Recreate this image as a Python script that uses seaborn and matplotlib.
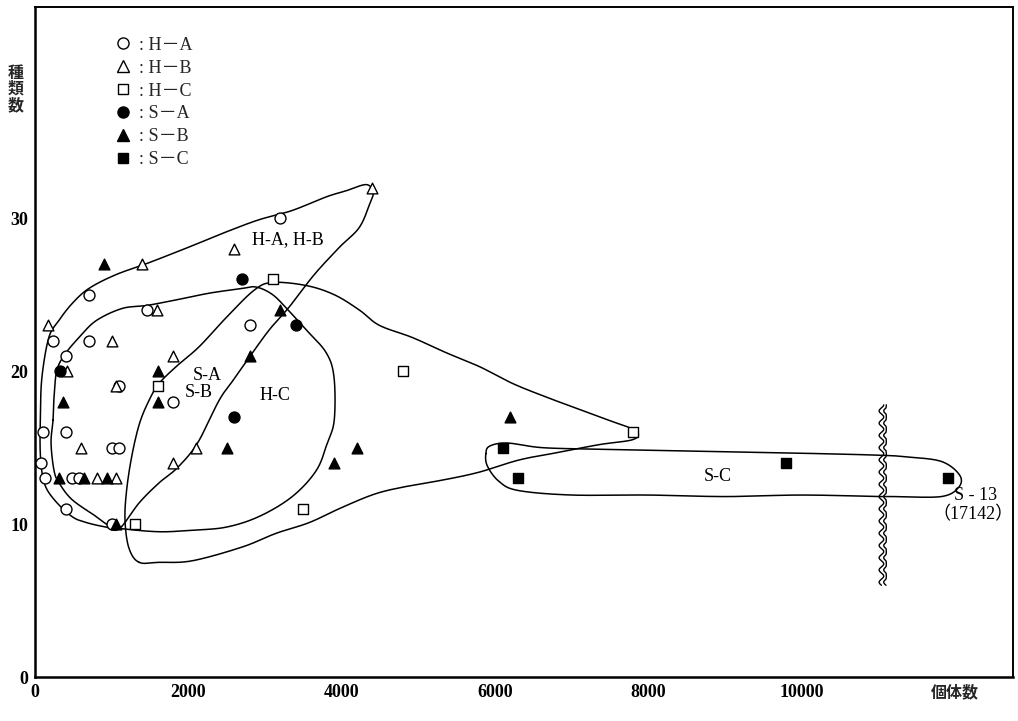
import numpy as np
import pandas as pd
import matplotlib
matplotlib.use("Agg")
import matplotlib.pyplot as plt
import seaborn as sns
from matplotlib.lines import Line2D

# ---- individuals (x) and species counts (y) per site group ----
ha_x = [3200, 700, 1460, 230, 700, 400, 2800, 1100, 1800, 100, 400, 1000, 1100, 80, 130, 480, 570, 400, 1000]
ha_y = [30, 25, 24, 22, 22, 21, 23, 19, 18, 16, 16, 15, 15, 14, 13, 13, 13, 11, 10]

hb_x = [4400, 2600, 1400, 170, 1000, 1800, 420, 1590, 1050, 600, 2100, 1800, 810, 1060]
hb_y = [32, 28, 27, 23, 22, 21, 20, 24, 19, 15, 15, 14, 13, 13]

hc_x = [3100, 1600, 4800, 3500, 1300, 7800]
hc_y = [26, 19, 20, 11, 10, 16]

sa_x = [330, 2700, 3400, 2600]
sa_y = [20, 26, 23, 17]

sb_x = [900, 370, 310, 640, 940, 1050, 1600, 1600, 2800, 3200, 2500, 3900, 4200, 6200]
sb_y = [27, 18, 13, 13, 13, 10, 20, 18, 21, 24, 15, 14, 15, 17]

sc_x = [6100, 6300, 9800, 17142]
sc_y = [15, 13, 14, 13]

group_names = ["H\uff0dA", "H\uff0dB", "H\uff0dC", "S\uff0dA", "S\uff0dB", "S\uff0dC"]
x_ticks = [0, 2000, 4000, 6000, 8000, 10000]
y_ticks = [0, 10, 20, 30]

# ---- hand-drawn group envelopes (control points, data units) ----
env_hab_x = [1100, 930, 670, 480, 250, 120, 70, 70, 90, 180, 310, 480, 700, 1050, 1490, 2050,
             2490, 2920, 3350, 3800, 4060, 4320, 4410, 4370, 4230, 3970, 3640, 3316, 3055,
             2794, 2598, 2402, 2120, 1860, 1619, 1360]
env_hab_y = [9.7, 9.8, 10.1, 10.5, 11.6, 12.7, 14.5, 17.0, 19.6, 22.2, 23.3, 24.4, 25.4, 26.3,
             27.1, 28.2, 29.1, 29.9, 30.5, 31.4, 31.8, 32.2, 31.7, 31.0, 29.4, 28.1, 26.3,
             24.2, 22.7, 20.9, 19.5, 18.1, 15.3, 13.7, 12.7, 11.4]

env_sab_x = [235, 248, 287, 405, 574, 796, 1136, 1462, 1880, 2272, 2689, 2885, 3100, 3300,
             3538, 3799, 3900, 3903, 3812, 3668, 3355, 2924, 2493, 2050, 1619, 1136, 966,
             796, 483, 313, 248, 209]
env_sab_y = [16.8, 18.3, 20.1, 21.2, 22.2, 23.3, 24.1, 24.3, 24.7, 25.1, 25.4, 25.5, 25.0, 24.0,
             22.7, 21.2, 19.6, 16.8, 15.3, 13.5, 11.8, 10.5, 9.8, 9.6, 9.5, 9.7, 9.9,
             10.5, 11.6, 12.7, 13.5, 15.3]

env_hc_x = [1358, 1227, 1175, 1188, 1253, 1358, 1488, 1619, 1841, 2141, 2493, 2859, 3100, 3538,
            3903, 4230, 4490, 4922, 5366, 5796, 6227, 6671, 7102, 7533, 7755, 7870, 7781,
            7363, 6841, 6319, 5796, 5339, 4882, 4452, 4008, 3577, 3146, 2702, 2050, 1619]
env_hc_y = [7.5, 8.4, 10.1, 11.9, 14.2, 16.5, 18.1, 19.2, 20.3, 21.6, 23.5, 25.3, 25.8, 25.6,
            25.0, 24.0, 23.0, 22.2, 21.2, 20.3, 19.2, 18.3, 17.5, 16.7, 16.3, 15.9, 15.5,
            15.2, 14.7, 14.2, 13.4, 12.9, 12.5, 12.0, 11.1, 10.1, 9.4, 8.5, 7.6, 7.5]

env_sc_x = [5880, 5930, 6160, 6610, 7300, 8300, 9300, 10300, 11040, 13000, 16500, 18300,
            18200, 16500, 12000, 11040, 10000, 9000, 8000, 7000, 6300, 6050, 5900]
env_sc_y = [14.6, 15.1, 15.3, 15.0, 14.9, 14.8, 14.7, 14.6, 14.5, 14.4, 14.1, 13.2,
            12.4, 11.8, 11.8, 11.8, 11.9, 11.8, 11.9, 11.9, 12.2, 12.8, 13.8]

# ---- broken x axis: values past the break are squeezed ----
BREAK = 11100.0
SQUEEZE = 0.1334


def fwd(x):
    x = np.asarray(x, float)
    return np.where(x <= BREAK, x, BREAK + (x - BREAK) * SQUEEZE)


def inv(u):
    u = np.asarray(u, float)
    return np.where(u <= BREAK, u, BREAK + (u - BREAK) / SQUEEZE)


def closed_curve(xs, ys, n=24):
    """Closed Catmull-Rom spline through control points (in scaled x space)."""
    P = np.column_stack([fwd(xs), np.asarray(ys, float)])
    N = len(P)
    t = np.linspace(0, 1, n, endpoint=False)[:, None]
    segs = []
    for i in range(N):
        p0, p1, p2, p3 = P[(i - 1) % N], P[i], P[(i + 1) % N], P[(i + 2) % N]
        segs.append(0.5 * (2 * p1 + (-p0 + p2) * t
                           + (2 * p0 - 5 * p1 + 4 * p2 - p3) * t ** 2
                           + (-p0 + 3 * p1 - 3 * p2 + p3) * t ** 3))
    pts = np.vstack(segs + [P[:1]])
    return inv(pts[:, 0]), pts[:, 1]


sns.set_theme(style="white")
plt.rcParams["font.family"] = ["Liberation Serif", "Noto Sans CJK JP", "DejaVu Sans"]

fig = plt.figure(figsize=(10.18, 7.21), dpi=100)
ax = fig.add_axes([0.0344, 0.061, 0.9606, 0.929])
ax.set_xscale("function", functions=(fwd, inv))

frames = []
for name, xs, ys in zip(group_names,
                        [ha_x, hb_x, hc_x, sa_x, sb_x, sc_x],
                        [ha_y, hb_y, hc_y, sa_y, sb_y, sc_y]):
    frames.append(pd.DataFrame({"個体数": xs, "種類数": ys, "group": name}))
df = pd.concat(frames, ignore_index=True)

marker_map = dict(zip(group_names, ["o", "^", "s", "o", "^", "s"]))
size_map = {"o": 62, "^": 60, "s": 48}

# envelopes
for ex, ey in [(env_hab_x, env_hab_y), (env_sab_x, env_sab_y),
               (env_hc_x, env_hc_y), (env_sc_x, env_sc_y)]:
    cx, cy = closed_curve(ex, ey)
    ax.plot(cx, cy, color="black", lw=1.1, zorder=2)

# open markers (H groups) and filled markers (S groups)
for name in group_names:
    sub = df[df["group"] == name]
    m = marker_map[name]
    filled = name.startswith("S")
    sns.scatterplot(data=sub, x="個体数", y="種類数", marker=m, s=size_map[m],
                    color="black" if filled else "white", edgecolor="black",
                    linewidth=1.0, legend=False, ax=ax, zorder=3)

# axis break marker (two wavy lines)
wy = np.linspace(6.0, 17.8, 300)
for x0 in (11040, 11100):
    ax.plot(x0 + 30 * np.sin(wy * 2 * np.pi / 0.8), wy, color="black", lw=1.0, zorder=4)

ax.set_xlim(0, float(inv(12755)))
ax.set_ylim(0, 43.8)
ax.set_xticks(x_ticks)
ax.set_xticklabels([str(v) for v in x_ticks])
ax.set_yticks(y_ticks)
ax.set_yticklabels([str(v) for v in y_ticks])
ax.tick_params(axis="both", direction="in", length=7, width=1.3, colors="black",
               labelsize=13, pad=5)
for lab in ax.get_xticklabels() + ax.get_yticklabels():
    lab.set_fontweight("bold")
ax.set_xlabel("")
ax.set_ylabel("")
for side, sp in ax.spines.items():
    sp.set_color("black")
    sp.set_visible(True)
    sp.set_linewidth(1.8 if side in ("left", "bottom") else 1.4)

# envelope labels
lab_kw = dict(fontsize=13, color="black", ha="center", va="center", zorder=5)
ax.text(3300, 28.6, "H-A, H-B", **lab_kw)
ax.text(2245, 19.7, "S-A", **lab_kw)
ax.text(2130, 18.6, "S-B", **lab_kw)
ax.text(3130, 18.4, "H-C", **lab_kw)
ax.text(8900, 13.1, "S-C", **lab_kw)
ax.text(float(inv(12270)), 11.85, "S - 13", **lab_kw)
ax.text(float(inv(12240)), 10.6, "（17142）", **lab_kw)

# axis titles
fig.text(16 / 1018, 1 - 89 / 721, "種\n類\n数", fontsize=11.5, fontweight="bold",
         ha="center", va="center", linespacing=1.0, family=["Noto Sans CJK JP"])
fig.text(955 / 1018, 1 - 692 / 721, "個体数", fontsize=11.5, fontweight="bold",
         ha="center", va="center", family=["Noto Sans CJK JP"])

# legend
handles = []
for name in group_names:
    m = marker_map[name]
    filled = name.startswith("S")
    handles.append(Line2D([], [], ls="", marker=m, markersize=8 if m != "s" else 7,
                          markerfacecolor="black" if filled else "white",
                          markeredgecolor="black", markeredgewidth=1.0))
ax.legend(handles, [": " + n for n in group_names], loc="upper left",
          bbox_to_anchor=(0.068, 0.975), frameon=False, fontsize=13,
          handlelength=1.0, handletextpad=0.35, labelspacing=0.33, borderpad=0.2)

fig.savefig("out.png", dpi=100, facecolor="white")
